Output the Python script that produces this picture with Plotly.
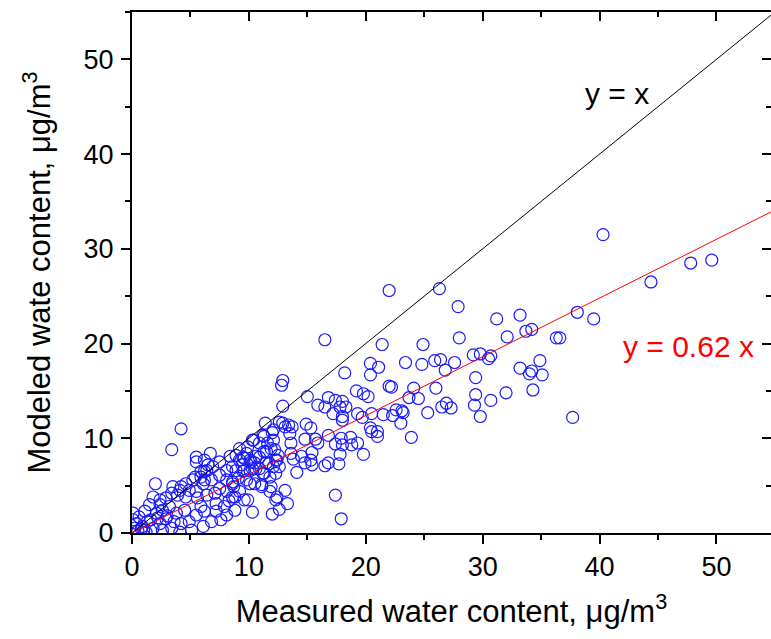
import plotly.graph_objects as go

measured = [
    40.3, 47.8, 49.6, 44.4, 38.1, 39.5, 36.6, 37.7,
    26.3, 27.9, 31.2, 33.2, 33.7, 34.2, 32.1, 36.3, 28.0, 24.9, 23.4, 24.8, 25.9, 26.4, 27.6, 26.8,
    29.2, 29.8, 30.7, 30.5, 29.4, 33.2, 34.2, 34.0, 34.9, 35.1, 34.3, 32.0, 29.4, 29.3, 30.7, 29.8,
    26.0, 24.1, 23.7, 24.5, 26.9, 26.5, 27.3, 25.3, 23.1, 23.2, 23.0, 23.9,
    22.0, 16.5, 21.4,
    20.4, 21.1, 20.4, 18.2, 12.9, 12.8, 15.0, 12.9,
    16.8, 17.4, 18.0, 15.9, 16.5, 17.8, 18.3, 17.2, 18.0, 18.0,
    19.2, 19.8, 20.2, 19.3, 19.7, 20.5,
    20.4, 20.5, 21.0, 21.0,
    21.5, 22.3, 22.2, 22.0, 22.6,
    14.9, 15.3, 15.7, 14.8, 15.9, 16.8,
    17.4, 17.9, 18.0, 18.7, 18.8, 19.3,
    17.8, 19.8, 17.7, 16.8, 16.5,
    15.4, 15.3, 15.4, 14.8, 14.5, 13.8, 13.6, 14.1,
    13.5, 13.6, 13.4, 13.7, 12.6, 12.9, 13.1, 11.4,
    12.0, 11.3, 10.3, 10.9, 11.6,
    11.9, 11.3, 12.5, 12.3, 12.1, 12.6, 11.5, 10.9, 10.5, 10.1, 9.8, 9.5, 9.2, 8.9, 9.6, 10.3, 10.9, 11.3,
    12.3, 13.1, 12.3, 13.3, 12.6, 12.0, 10.3, 9.9, 8.8, 9.2, 11.1, 11.8, 10.1, 8.6,
    17.4, 17.9,
    4.2, 3.4, 5.5, 6.7, 5.5, 6.5, 6.2, 2.0, 5.9, 6.2, 5.4,
    12.1, 10.4, 12.1, 11.2, 9.9, 9.2, 8.4, 8.9, 9.6, 10.2, 10.6, 11.5, 12.2, 11.7, 12.4,
    7.5, 6.9, 6.4, 5.9, 6.2, 7.5, 8.1, 8.6, 9.4, 9.5, 10.1, 10.6, 11.2, 11.8, 9.1, 9.8, 10.5, 11.1, 11.9, 12.4,
    3.5, 4.2, 4.9, 5.5, 3.9, 4.6, 5.6, 6.4, 7.1, 7.5, 8.1, 8.6, 9.6, 7.2, 7.9, 8.8,
    1.8, 2.4, 1.5, 1.1, 0.6, 0.4, 0.2, 0.9, 1.6, 2.1, 2.6, 3.2, 3.8, 4.5, 2.9, 3.6, 4.2, 4.9, 6.1, 6.8,
    5.5, 6.2, 2.4, 1.8, 1.2, 2.6, 3.4, 5.1, 4.1, 0.1, 0.1,
    5.9, 7.2, 8.1, 7.6,
    5.2, 4.6, 4.1, 6.1, 6.8, 3.4, 2.9, 2.4, 8.1, 8.6,
    8.3, 8.7, 1.3, 0.8, 2.2, 3.0, 0.5, 1.0,
]

modeled = [
    31.5, 28.5, 28.8, 26.5, 23.3, 22.6, 20.6, 12.2,
    25.8, 23.9, 22.6, 23.0, 21.3, 21.5, 20.7, 20.6, 20.6, 19.9, 18.0, 17.8, 18.2, 18.3, 18.0, 17.2,
    18.8, 18.9, 18.7, 18.4, 16.4, 17.4, 17.1, 16.8, 18.2, 16.7, 15.1, 14.8, 14.6, 13.5, 14.0, 12.3,
    15.3, 15.3, 14.3, 14.2, 13.7, 13.3, 13.2, 12.7, 12.9, 12.7, 11.6, 10.1,
    25.6, 20.4, 19.9,
    17.9, 17.5, 16.7, 16.9, 16.1, 15.6, 14.4, 13.4,
    14.3, 14.0, 13.9, 13.5, 13.3, 13.3, 13.3, 12.6, 12.3, 11.9,
    15.0, 14.7, 14.4, 12.6, 12.2, 12.6,
    11.1, 10.7, 10.7, 10.2,
    12.5, 12.4, 15.4, 15.5, 13.0,
    11.5, 11.1, 9.9, 9.9, 9.5, 10.3,
    9.4, 10.0, 9.3, 10.1, 9.3, 9.5,
    8.3, 8.3, 7.3, 7.4, 7.1,
    8.5, 7.7, 7.2, 7.4, 8.1, 7.8, 8.4, 6.4,
    10.5, 9.5, 11.4, 11.2, 11.7, 11.6, 11.2, 11.6,
    10.6, 10.2, 9.8, 9.5, 9.5,
    8.9, 8.6, 8.2, 7.7, 7.0, 7.0, 7.4, 8.0, 7.4, 7.7, 8.4, 8.0, 7.7, 6.6, 6.6, 6.8, 6.8, 6.3,
    6.3, 4.5, 3.5, 3.1, 2.5, 2.0, 2.2, 3.5, 3.8, 4.4, 5.1, 4.4, 5.2, 5.4,
    4.0, 1.5,
    11.0, 8.8, 8.0, 8.4, 7.5, 7.2, 7.7, 5.2, 6.5, 5.6, 5.9,
    10.9, 9.8, 9.8, 10.3, 9.1, 8.9, 8.1, 8.2, 7.9, 7.5, 8.1, 8.6, 8.8, 7.3, 7.7,
    7.5, 7.0, 6.6, 5.9, 6.5, 6.1, 6.6, 7.0, 7.2, 6.5, 6.6, 6.8, 6.3, 5.9, 5.8, 5.6, 5.2, 4.9, 4.9, 3.8,
    4.9, 4.9, 4.5, 4.4, 4.0, 3.8, 3.7, 4.0, 4.2, 4.7, 4.4, 3.8, 3.5, 3.1, 2.8, 2.4,
    3.8, 3.5, 3.0, 2.3, 1.7, 1.0, 0.5, 0.7, 1.4, 2.1, 2.4, 2.8, 2.1, 2.4, 1.5, 1.2, 1.0, 1.2, 0.7, 1.2,
    1.9, 2.3, 1.0, 0.5, 0.1, 0.3, 0.5, 0.3, 0.1, 1.4, 2.1,
    2.8, 2.3, 1.9, 1.4,
    5.6, 5.2, 4.5, 5.2, 5.6, 4.2, 3.7, 3.0, 5.6, 5.2,
    3.4, 4.9, 1.2, 0.4, 1.6, 1.8, 0.2, 0.3,
]

line_x = [0, 60]
slope_fit = 0.62
one_to_one = [v for v in line_x]
fit_line = [slope_fit * v for v in line_x]

x_ticks = [0, 10, 20, 30, 40, 50]
y_ticks = [0, 10, 20, 30, 40, 50]

XMAX = 54.67
YMAX = 55.0

fig = go.Figure()
fig.add_trace(go.Scatter(
    x=measured, y=modeled, mode="markers",
    marker=dict(symbol="circle-open", size=12, color="#1a1aff", line=dict(width=1.2, color="#1a1aff")),
    showlegend=False, cliponaxis=True,
))
fig.add_trace(go.Scatter(x=line_x, y=one_to_one, mode="lines",
                         line=dict(color="black", width=1), showlegend=False))
fig.add_trace(go.Scatter(x=line_x, y=fit_line, mode="lines",
                         line=dict(color="red", width=1), showlegend=False))
fig.add_trace(go.Scatter(x=[0], y=[0], xaxis="x2", yaxis="y2", mode="markers",
                         marker=dict(opacity=0), showlegend=False, hoverinfo="skip"))

axis_font = "Liberation Sans, Arial, sans-serif"
note_font = "Liberation Sans, Arial, sans-serif"

common = dict(showgrid=False, zeroline=False, linecolor="black", linewidth=2,
              tickwidth=2, tickcolor="black", ticklen=9, automargin=False)

fig.update_layout(
    width=771, height=639,
    margin=dict(l=132, r=0, t=12, b=106),
    paper_bgcolor="white", plot_bgcolor="white",
    font=dict(family=axis_font, color="black"),
    xaxis=dict(
        range=[0, XMAX], tickvals=x_ticks, ticktext=[str(v) for v in x_ticks],
        ticks="outside", showline=True,
        minor=dict(ticks="outside", ticklen=5, tickwidth=2, tickcolor="black", dtick=5, tick0=0),
        tickfont=dict(size=27, family=axis_font), ticklabelstandoff=0,
        title=dict(text="Measured water content, μg/m<sup>3</sup>", font=dict(size=31, family=axis_font), standoff=19),
        **common,
    ),
    yaxis=dict(
        range=[0, YMAX], tickvals=y_ticks, ticktext=[str(v) for v in y_ticks],
        ticks="outside", showline=True,
        minor=dict(ticks="outside", ticklen=5, tickwidth=2, tickcolor="black", dtick=5, tick0=0),
        tickfont=dict(size=27, family=axis_font), ticklabelstandoff=2,
        title=dict(text="Modeled wate content, μg/m<sup>3</sup>", font=dict(size=31, family=axis_font), standoff=24),
        **common,
    ),
    xaxis2=dict(
        overlaying="x", side="top", range=[0, XMAX], tickvals=x_ticks, showticklabels=False,
        ticks="inside", showline=True,
        minor=dict(ticks="inside", ticklen=5, tickwidth=2, tickcolor="black", dtick=5, tick0=0),
        **common,
    ),
    yaxis2=dict(
        overlaying="y", side="right", range=[0, YMAX], tickvals=y_ticks, showticklabels=False,
        ticks="inside", showline=False,
        minor=dict(ticks="inside", ticklen=5, tickwidth=2, tickcolor="black", dtick=5, tick0=0),
        **common,
    ),
    annotations=[
        dict(x=41.5, y=46.4, xref="x", yref="y", text="y = x", showarrow=False,
             font=dict(size=30, color="black", family=note_font)),
        dict(x=47.6, y=19.7, xref="x", yref="y", text="y = 0.62 x", showarrow=False,
             font=dict(size=30, color="red", family=note_font)),
    ],
)

# remove the default 8px page margin so the 771x639 figure fills the window exactly
fig.write_html("out.html", config={"displayModeBar": False},
               post_script="document.body.style.margin='0';document.body.style.overflow='hidden';")
